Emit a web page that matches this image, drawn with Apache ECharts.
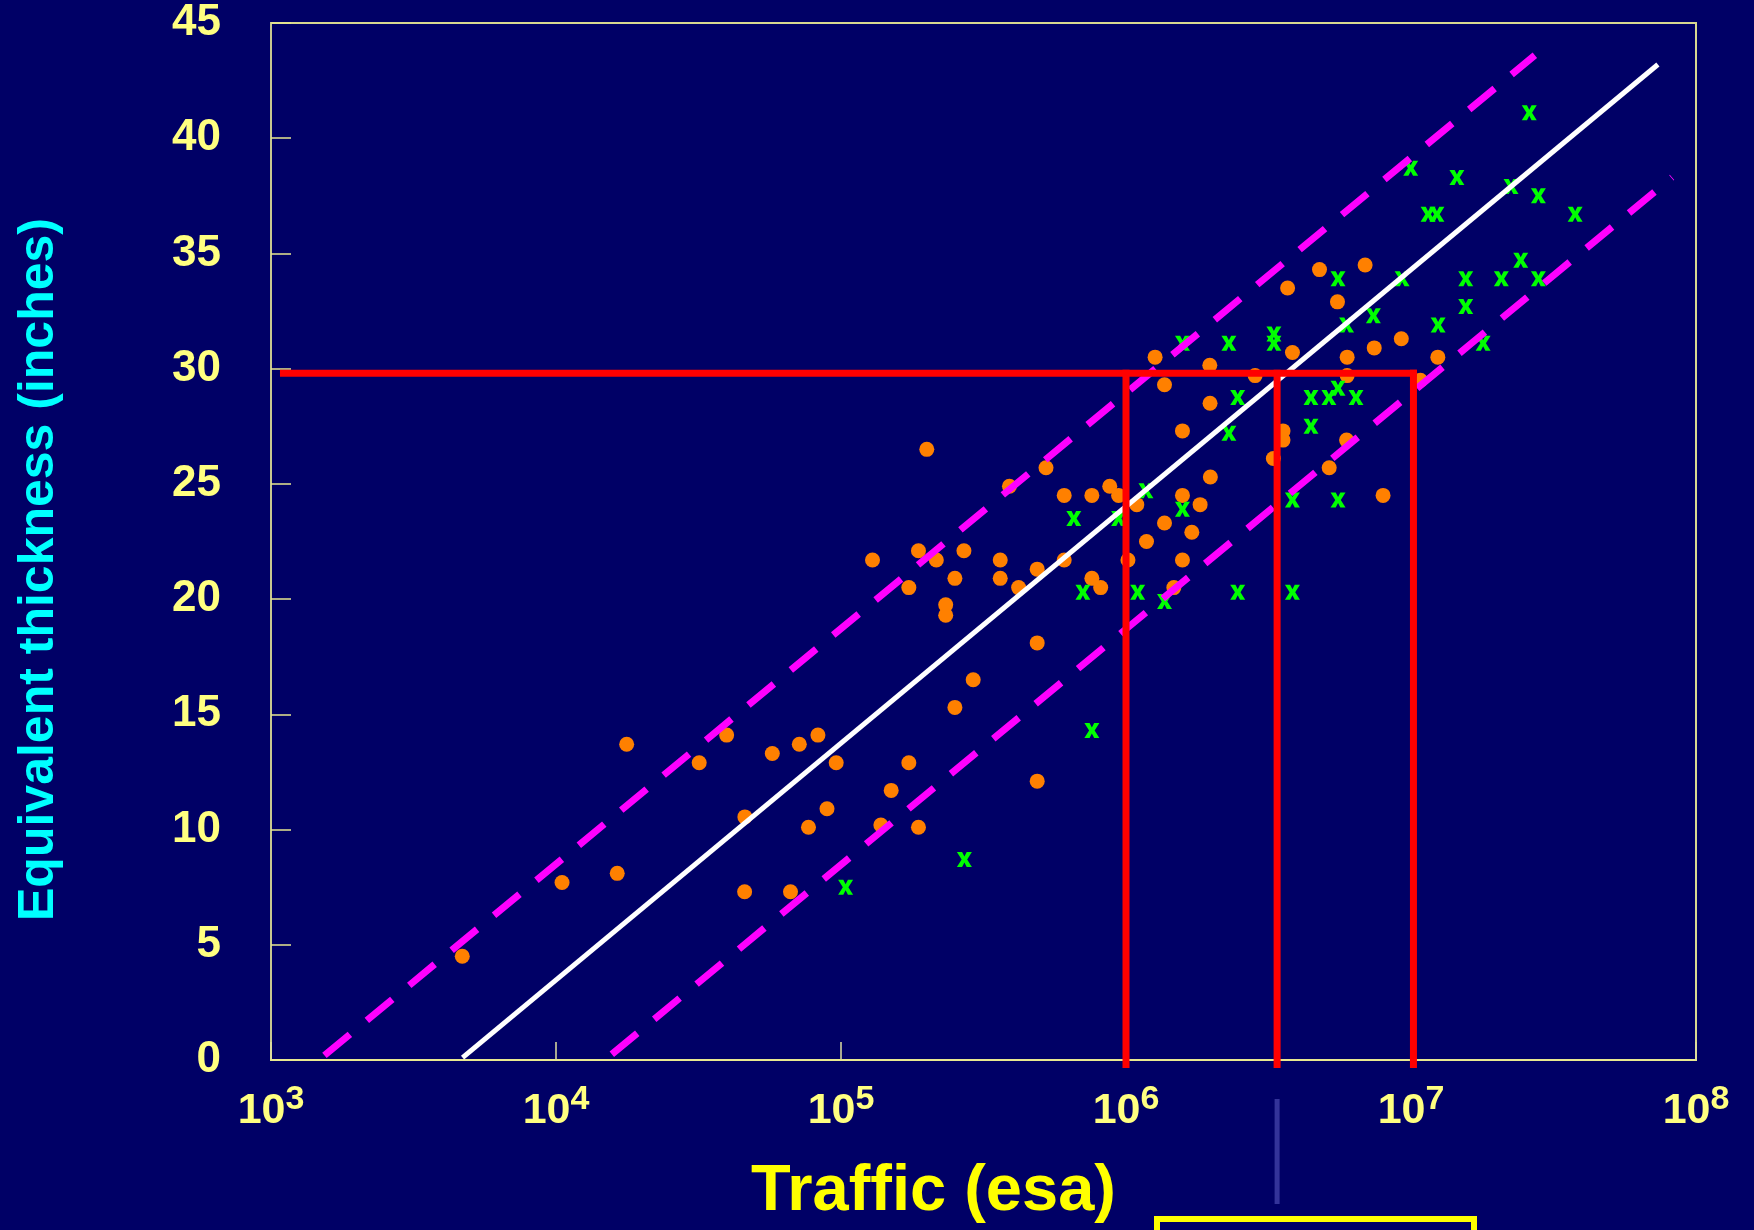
<!DOCTYPE html>
<html>
<head>
<meta charset="utf-8">
<script src="https://cdn.jsdelivr.net/npm/echarts@6/dist/echarts.min.js"></script>
<style>
  html, body { margin: 0; padding: 0; background: #000066; }
  #chart { width: 1754px; height: 1230px; }
</style>
</head>
<body>
<div id="chart"></div>
<script>
// sections with measured data (traffic in esa, thickness in inches)
const orangeTraffic = [4690, 10500, 16400, 17700, 31800, 39700, 46000, 45900, 57400, 66500, 71400, 76900, 83000, 89300, 96200,
  129000, 138000, 150000, 173000, 173000, 187000, 187000, 200000, 216000, 233000, 233000, 251000, 251000, 270000, 291000,
  362000, 362000, 390000, 420000, 488000, 488000, 488000, 524000, 607000, 607000, 759000, 759000, 815000, 877000, 942000,
  1016000, 1091000, 1180000, 1265000, 1365000, 1365000, 1472000, 1578000, 1578000, 1578000, 1702000, 1820000, 1968000, 1972000, 1977000,
  2838000, 3289000, 3556000, 3556000, 3690000, 3837000, 4775000, 5164000, 5521000, 5970000, 5970000, 5943000, 6902000, 7430000, 7980000, 9247000, 10790000, 12420000];
const orangeThickness = [4.5, 7.7, 8.1, 13.7, 12.9, 14.1, 10.55, 7.3, 13.3, 7.3, 13.7, 10.1, 14.1, 10.9, 12.9,
  21.7, 10.2, 11.7, 12.9, 20.5, 10.1, 22.1, 26.5, 21.7, 19.75, 19.3, 20.9, 15.3, 22.1, 16.5,
  21.7, 20.9, 24.9, 20.5, 21.3, 18.1, 12.1, 25.7, 24.5, 21.7, 24.5, 20.9, 20.5, 24.9, 24.5,
  21.7, 24.1, 22.5, 30.5, 29.3, 23.3, 20.5, 27.3, 24.5, 21.7, 22.9, 24.1, 30.15, 28.5, 25.3,
  29.7, 26.1, 27.3, 26.9, 33.5, 30.7, 34.3, 25.7, 32.9, 30.5, 29.7, 26.9, 34.5, 30.9, 24.5, 31.3, 29.5, 30.5];

const greenTraffic = [103800, 271000, 759000, 656000, 706000, 942000, 1099000, 1175000, 1365000, 1578000,
  1578000, 2296000, 2296000, 2466000, 2466000, 3304000, 3304000, 3837000, 3837000, 4457000,
  4457000, 5152000, 5546000, 5546000, 5546000, 5943000, 6412000, 7379000, 9311000, 9977000,
  11480000, 12330000, 12450000, 14490000, 15560000, 15560000, 17910000, 20750000, 22440000, 24270000,
  26000000, 27990000, 27990000, 37670000];
const greenThickness = [7.5, 8.7, 14.3, 23.5, 20.3, 23.5, 20.3, 24.7, 19.9, 23.9,
  31.1, 27.2, 31.1, 28.75, 20.3, 31.5, 31.1, 24.3, 20.3, 28.75,
  27.5, 28.75, 29.15, 33.9, 24.3, 31.9, 28.75, 32.3, 33.9, 38.7,
  36.7, 36.7, 31.9, 38.3, 33.9, 32.7, 31.1, 33.9, 37.9, 34.7,
  41.1, 37.5, 33.9, 36.7];

// fitted line and band end points
const meanLine = [[4700, 0.1], [7.35e7, 43.2]];
const upperBand = [[1540, 0.2], [2.72e7, 43.6]];
const lowerBand = [[15700, 0.25], [8.24e7, 38.3]];

// design example: 30 inches read across to traffic
const designThickness = 29.8;
const designStart = 1106;
const designTraffic = [1.0e6, 3.39e6, 1.02e7];
const designBottom = -0.2;

// axes
const xDecades = [3, 4, 5, 6, 7, 8];
const yMax = 45;
const yStep = 5;

const zip = (xs, ys) => xs.map((x, i) => [x, ys[i]]);
const font = "'Liberation Sans', Arial, sans-serif";
const xGlyph = 'path://M0 0H4.5L6.5 3.9L8.5 0H13L8.9 6.5L13 13H8.5L6.5 9.1L4.5 13H0L4.1 6.5Z';

const chart = echarts.init(document.getElementById('chart'));

const redSeries = [
  {
    type: 'line',
    data: [[designStart, designThickness], [designTraffic[2], designThickness]],
  },
  ...designTraffic.map((t) => ({
    type: 'line',
    data: [[t, designThickness], [t, designBottom]],
  })),
].map((s) => ({
  ...s,
  symbol: 'none',
  silent: true,
  clip: false,
  z: 5,
  lineStyle: { color: '#ff0000', width: 7, cap: 'square' },
}));

const option = {
  backgroundColor: '#000066',
  animation: false,
  grid: {
    left: 271,
    right: 58,
    top: 23,
    bottom: 170,
    show: true,
    borderColor: '#d8d890',
    borderWidth: 2,
  },
  xAxis: {
    type: 'log',
    logBase: 10,
    min: Math.pow(10, xDecades[0]),
    max: Math.pow(10, xDecades[xDecades.length - 1]),
    name: 'Traffic (esa)',
    nameLocation: 'middle',
    nameGap: 100,
    nameTextStyle: {
      color: '#ffff00',
      fontSize: 65,
      fontWeight: 'bold',
      fontFamily: font,
      padding: [0, 100, 0, 0],
    },
    axisLine: { lineStyle: { color: '#e8e890', width: 2 } },
    axisTick: { inside: true, length: 18, lineStyle: { color: '#e0e0a0', width: 1.5 } },
    minorTick: { show: false },
    splitLine: { show: false },
    axisLabel: {
      margin: 30,
      formatter: (v) => '{b|10}{s|' + Math.round(Math.log10(v)) + '}',
      rich: {
        b: { fontSize: 43, lineHeight: 43, fontWeight: 'bold', fontFamily: font, color: '#ffff80' },
        s: { fontSize: 34, lineHeight: 34, fontWeight: 'bold', fontFamily: font, color: '#ffff80', padding: [0, 0, 24, 0] },
      },
    },
  },
  yAxis: {
    type: 'value',
    min: 0,
    max: yMax,
    interval: yStep,
    name: 'Equivalent thickness (inches)',
    nameLocation: 'middle',
    nameRotate: 90,
    nameGap: 207,
    nameTextStyle: {
      color: '#00ffff',
      fontSize: 50,
      fontWeight: 'bold',
      fontFamily: font,
      padding: [0, 56, 0, 0],
    },
    axisLine: { show: true, lineStyle: { color: '#c8c890', width: 2 } },
    axisTick: { show: true, inside: true, length: 20, lineStyle: { color: '#e8e890', width: 1.5 } },
    splitLine: { show: false },
    axisLabel: {
      margin: 50,
      padding: [5, 0, 0, 0],
      color: '#ffff80',
      fontSize: 44,
      fontWeight: 'bold',
      fontFamily: font,
    },
  },
  series: [
    {
      type: 'line',
      data: meanLine,
      symbol: 'none',
      silent: true,
      lineStyle: { color: '#ffffff', width: 5 },
    },
    {
      type: 'scatter',
      data: zip(orangeTraffic, orangeThickness),
      symbol: 'circle',
      symbolSize: 15,
      itemStyle: { color: '#ff8000', opacity: 1 },
    },
    {
      type: 'line',
      data: upperBand,
      symbol: 'none',
      silent: true,
      lineStyle: { color: '#ff00ff', width: 7, type: [33, 22] },
    },
    {
      type: 'line',
      data: lowerBand,
      symbol: 'none',
      silent: true,
      lineStyle: { color: '#ff00ff', width: 7, type: [33, 22] },
    },
    {
      type: 'scatter',
      data: zip(greenTraffic, greenThickness),
      symbol: xGlyph,
      symbolSize: [15, 15],
      itemStyle: { color: '#00ff00', opacity: 1 },
    },
    ...redSeries,
  ],
};

chart.setOption(option);

// connector and callout box below the axis, tied to the middle traffic value
const cx = chart.convertToPixel({ xAxisIndex: 0 }, designTraffic[1]);
chart.setOption({
  graphic: [
    {
      type: 'line',
      shape: { x1: cx, y1: 1099, x2: cx, y2: 1204 },
      style: { stroke: '#33339a', lineWidth: 5 },
    },
    {
      type: 'rect',
      shape: { x: 1157, y: 1219, width: 317, height: 100 },
      style: { stroke: '#ffff00', lineWidth: 6, fill: 'none' },
    },
  ],
});
</script>
</body>
</html>
